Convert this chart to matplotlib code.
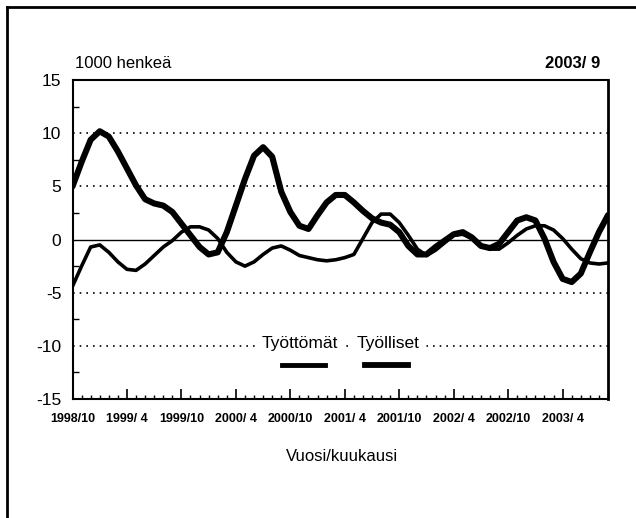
import matplotlib
matplotlib.use("Agg")
from matplotlib import pyplot as plt
from matplotlib.lines import Line2D
from matplotlib.ticker import MultipleLocator

plt.rcParams['font.family'] = ['Liberation Sans', 'DejaVu Sans']

# kuukaudet 1998/10 ... 2003/9
months = list(range(60))
tick_pos = [0, 6, 12, 18, 24, 30, 36, 42, 48, 54]
tick_labels = ['1998/10', '1999/ 4', '1999/10', '2000/ 4', '2000/10',
               '2001/ 4', '2001/10', '2002/ 4', '2002/10', '2003/ 4']

# muutos 1000 henkeä
tyolliset = [5.0, 7.3, 9.4, 10.2, 9.7, 8.3, 6.7, 5.1, 3.8, 3.4,
             3.2, 2.6, 1.5, 0.4, -0.7, -1.4, -1.2, 0.7, 3.2, 5.7,
             7.9, 8.7, 7.8, 4.5, 2.6, 1.3, 1.0, 2.3, 3.5, 4.2,
             4.2, 3.5, 2.7, 2.0, 1.6, 1.4, 0.7, -0.6, -1.4, -1.4,
             -0.7, -0.1, 0.5, 0.7, 0.2, -0.6, -0.8, -0.4, 0.7, 1.8,
             2.1, 1.8, 0.1, -2.1, -3.7, -4.0, -3.2, -1.2, 0.7, 2.3]
tyottomat = [-4.4, -2.5, -0.7, -0.5, -1.2, -2.1, -2.8, -2.9, -2.3, -1.5,
             -0.7, -0.1, 0.7, 1.2, 1.2, 0.9, 0.1, -1.2, -2.1, -2.5,
             -2.1, -1.4, -0.8, -0.6, -1.0, -1.5, -1.7, -1.9, -2.0, -1.9,
             -1.7, -1.4, 0.1, 1.6, 2.4, 2.4, 1.6, 0.4, -0.9, -1.5,
             -1.0, -0.3, 0.4, 0.5, 0.1, -0.6, -0.9, -0.9, -0.3, 0.4,
             1.0, 1.3, 1.3, 0.9, 0.1, -0.9, -1.8, -2.2, -2.3, -2.2]

fig = plt.figure(figsize=(6.36, 5.18), dpi=100)
ax = fig.add_axes([0.114, 0.23, 0.842, 0.615])

ax.plot(months, tyottomat, color='black', lw=2.6, solid_capstyle='round',
        solid_joinstyle='round', zorder=3)
ax.plot(months, tyolliset, color='black', lw=4.4, solid_capstyle='round',
        solid_joinstyle='round', zorder=4)

# apuviivat
for y in [-10, -5, 5, 10]:
    ax.axhline(y, color='black', lw=1.2, ls=(0, (1, 3)), zorder=1)
ax.axhline(0, color='black', lw=1.0, zorder=2)

ax.set_xlim(0, 59)
ax.set_ylim(-15, 15)
ax.set_yticks([-15, -10, -5, 0, 5, 10, 15])
ax.set_yticklabels(['-15', '-10', '-5', '0', '5', '10', '15'])
ax.yaxis.set_minor_locator(MultipleLocator(2.5))
ax.set_xticks(tick_pos)
ax.set_xticklabels(tick_labels, fontweight='bold', fontsize=9)
ax.xaxis.set_minor_locator(MultipleLocator(1))
ax.tick_params(axis='y', which='major', direction='in', length=0, labelsize=12.5, pad=8)
ax.tick_params(axis='y', which='minor', direction='in', length=4, width=1)
ax.tick_params(axis='x', which='major', direction='in', length=7, width=1.2, pad=10)
ax.tick_params(axis='x', which='minor', direction='in', length=3, width=1)
for s in ax.spines.values():
    s.set_linewidth(1.5)
ax.spines['right'].set_linewidth(2)

# selitteet
ax.text(0.425, 0.175, 'Työttömät', transform=ax.transAxes, ha='center', va='center',
        fontsize=12.5, backgroundcolor='white', zorder=5)
ax.text(0.59, 0.175, 'Työlliset', transform=ax.transAxes, ha='center', va='center',
        fontsize=12.5, backgroundcolor='white', zorder=5)
ax.add_line(Line2D([0.392, 0.472], [0.107, 0.107], transform=ax.transAxes,
                   color='black', lw=3.5))
ax.add_line(Line2D([0.547, 0.627], [0.107, 0.107], transform=ax.transAxes,
                   color='black', lw=4.2))

fig.text(0.118, 0.878, '1000 henkeä', fontsize=12, va='center')
fig.text(0.944, 0.878, '2003/ 9', fontsize=12, fontweight='bold', va='center', ha='right')
fig.text(0.538, 0.118, 'Vuosi/kuukausi', fontsize=12, ha='center', va='center')

# kehys
fig.add_artist(Line2D([0.011, 1.0], [0.986, 0.986], color='black', lw=2))
fig.add_artist(Line2D([0.011, 0.011], [0.0, 0.986], color='black', lw=2))

fig.savefig('out.png', dpi=100)
